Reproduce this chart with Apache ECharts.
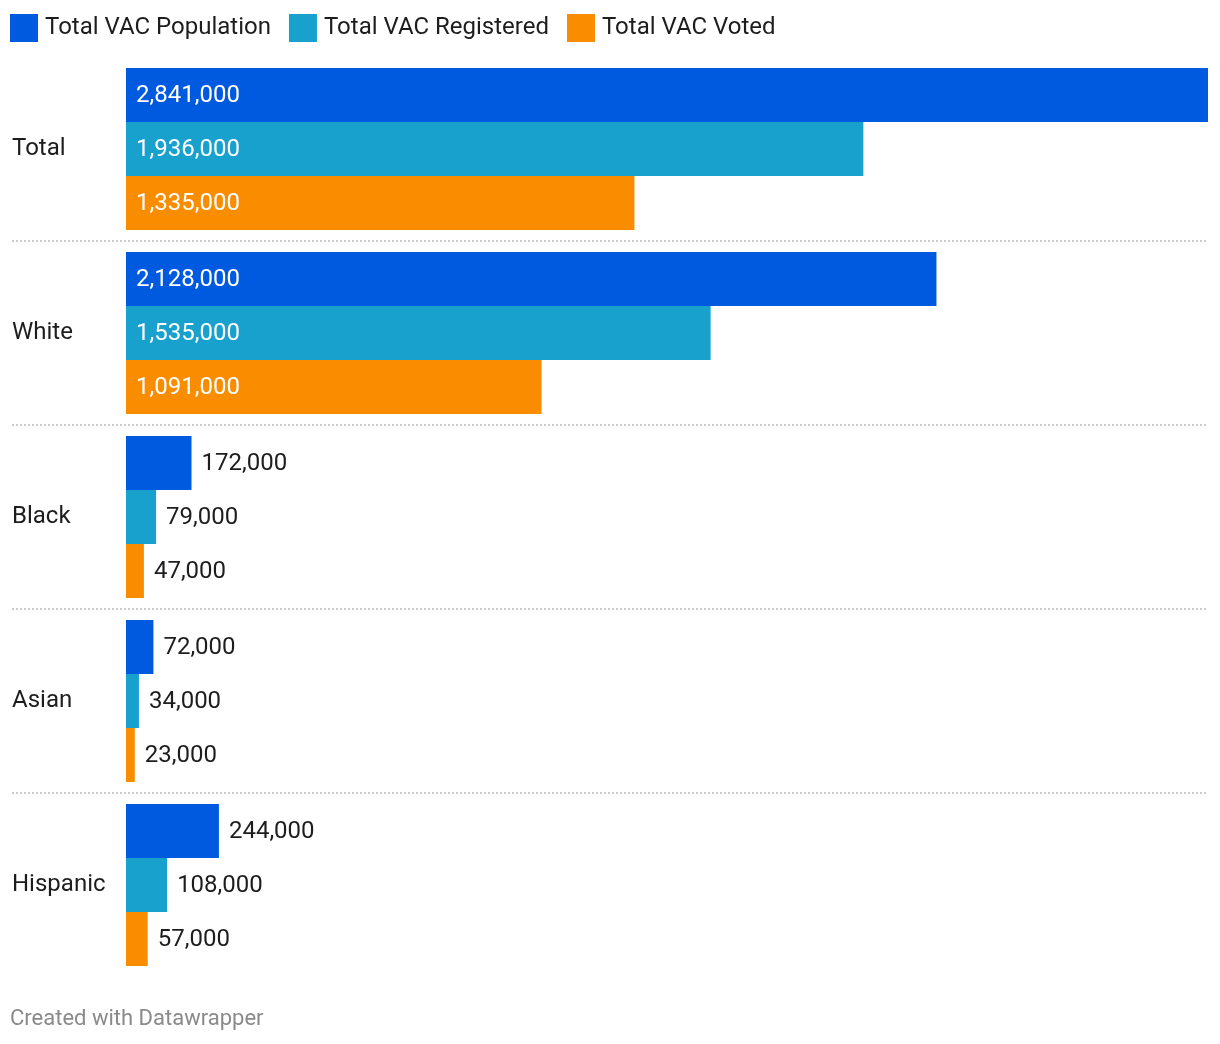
<!DOCTYPE html>
<html><head><meta charset="utf-8">
<script src="https://cdn.jsdelivr.net/npm/echarts@6/dist/echarts.min.js"></script>
<style>html,body{margin:0;padding:0;background:#fff}#c{width:1220px;height:1044px}</style>
</head><body><div id="c"></div>
<script>
const categories = ['Total', 'White', 'Black', 'Asian', 'Hispanic'];
const seriesNames = ['Total VAC Population', 'Total VAC Registered', 'Total VAC Voted'];
const population = [2841000, 2128000, 172000, 72000, 244000];
const registered = [1936000, 1535000, 79000, 34000, 108000];
const voted = [1335000, 1091000, 47000, 23000, 57000];
const colors = ['#005ae0', '#18a1cd', '#fa8c00'];

const FONT = 'Roboto';
const fmt = v => v.toLocaleString('en-US');
const maxVal = 2841000;
const plotLeft = 12, barStart = 126, barEnd = 1208;
const axisMin = -maxVal * (barStart - plotLeft) / (barEnd - barStart);

function mkData(arr) {
  return arr.map(v => {
    const inside = v > 500000;
    return {
      value: v,
      label: inside
        ? { position: 'insideLeft', distance: 10, color: '#fff' }
        : { position: 'right', distance: 10, color: '#1d1d1d' }
    };
  });
}

const chart = echarts.init(document.getElementById('c'), null, { renderer: 'canvas' });
chart.setOption({
  animation: false,
  color: colors,
  textStyle: { fontFamily: FONT },
  legend: {
    left: 10, top: 14, padding: 0, itemWidth: 28, itemHeight: 28, itemGap: 18,
    icon: 'rect',
    textStyle: { fontFamily: FONT, fontSize: 24, color: '#1d1d1d', padding: [0, 0, 0, 2] },
    data: seriesNames
  },
  graphic: [{
    type: 'text', left: 10, top: 1008,
    style: { text: 'Created with Datawrapper', fontFamily: FONT, fontSize: 22, fill: '#8a8a8a' }
  }],
  grid: { left: plotLeft, right: 12, top: 57, bottom: 67, containLabel: false },
  xAxis: {
    type: 'value', min: axisMin, max: maxVal, show: false,
    splitLine: { show: false }
  },
  yAxis: {
    type: 'category', data: categories, inverse: true,
    axisLine: { show: false, onZero: false },
    axisTick: { show: false },
    axisLabel: { inside: true, margin: 0, fontFamily: FONT, fontSize: 24, color: '#1d1d1d', padding: [5, 0, 0, 0] },
    splitLine: {
      show: true, showMinLine: false, showMaxLine: false,
      lineStyle: { color: '#cccccc', width: 2, type: [2, 2] }
    }
  },
  series: [population, registered, voted].map((arr, i) => ({
    name: seriesNames[i],
    type: 'bar',
    barWidth: 54,
    barGap: '0%',
    data: mkData(arr),
    label: {
      show: true, fontFamily: FONT, fontSize: 24, offset: [0, 1],
      formatter: p => fmt(p.value)
    }
  }))
});
</script></body></html>
